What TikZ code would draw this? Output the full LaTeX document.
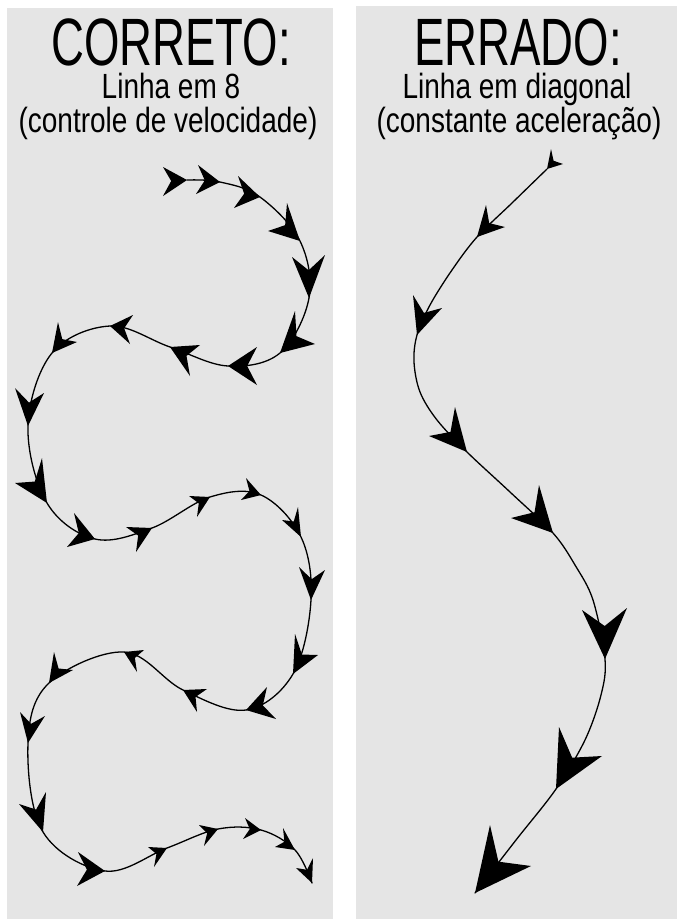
\documentclass[tikz,border=0pt]{standalone}
\usepackage{fontspec}
\setmainfont{Liberation Sans}
\newfontfamily\titlefont[FakeStretch=0.68]{Liberation Sans}
\newfontfamily\subfont[FakeStretch=0.80]{Liberation Sans}
\usetikzlibrary{calc}
\definecolor{panelgray}{RGB}{229,229,229}
\tikzset{
  panel/.style={fill=panelgray, draw=none},
  titletext/.style={anchor=base, inner sep=0pt, text height=48pt, text depth=0pt,
    font=\titlefont\fontsize{67}{70}\selectfont},
  subtext/.style={anchor=base, inner sep=0pt, text height=25pt, text depth=7pt,
    font=\subfont\fontsize{35}{38}\selectfont},
  trail/.style={line width=1.3pt, line cap=round, line join=round},
}
\newcommand\arrhead[3]{%
  \coordinate (m) at ($#2!0.5!#3$);
  \fill #1 -- #2 -- ($#1!0.66!(m)$) -- #3 -- cycle;}
\begin{document}
\begin{tikzpicture}[x=1pt,y=-1pt]
\useasboundingbox (0,0) rectangle (677,919);
\fill[white] (0,0) rectangle (677,919);
\path[panel] (7,8) rectangle (333,919);
\path[panel] (356,6) rectangle (677,919);

\node[titletext] (t1) at (171,65) {CORRETO:};
\node[subtext] (s1) at (171,98) {Linha em 8};
\node[subtext] (s2) at (168,132) {(controle de velocidade)};
\node[titletext] (t2) at (518,65) {ERRADO:};
\node[subtext] (s3) at (517,98) {Linha em diagonal};
\node[subtext] (s4) at (519,132) {(constante aceleração)};

% left trail
\draw[trail] plot[smooth, tension=0.6] coordinates {
(187,180) (220,182) (260,197) (300,241) (309,298) (280,353) (228,366)
(170,347) (110,326) (52,353) (28,426) (47,503) (95,539) (152,528)
(210,497) (261,495) (301,537) (311,600) (293,674) (246,710) (183,690)
(124,652) (49,683) (28,743) (43,832) (105,871) (167,848) (218,829)
(261,830) (295,850) (312,883)};

\arrhead{(187,180)}{(163,167)}{(163,196)}
\arrhead{(220,182)}{(198,165)}{(196,194)}
\arrhead{(260,197)}{(238,176)}{(234,208)}
\arrhead{(300,241)}{(287,203)}{(268,231)}
\arrhead{(309,298)}{(292,257)}{(325,255)}
\arrhead{(280,353)}{(295,311)}{(315,344)}
\arrhead{(228,366)}{(257,347)}{(257,385)}
\arrhead{(170,347)}{(200,345)}{(190,376)}
\arrhead{(110,326)}{(133,315)}{(130,344)}
\arrhead{(52,353)}{(58,322)}{(77,342)}
\arrhead{(28,426)}{(15,388)}{(44,393)}
\arrhead{(47,503)}{(42,458)}{(15,483)}
\arrhead{(95,539)}{(74,513)}{(67,547)}
\arrhead{(152,528)}{(126,527)}{(136,552)}
\arrhead{(210,497)}{(189,496)}{(197,517)}
\arrhead{(261,495)}{(246,478)}{(241,500)}
\arrhead{(301,537)}{(298,507)}{(282,520)}
\arrhead{(311,600)}{(299,567)}{(325,570)}
\arrhead{(293,674)}{(295,634)}{(318,655)}
\arrhead{(246,710)}{(267,687)}{(276,719)}
\arrhead{(183,690)}{(207,689)}{(197,712)}
\arrhead{(124,652)}{(144,650)}{(137,672)}
\arrhead{(49,683)}{(54,652)}{(73,670)}
\arrhead{(28,743)}{(20,712)}{(45,716)}
\arrhead{(43,832)}{(46,792)}{(19,804)}
\arrhead{(105,871)}{(78,852)}{(77,886)}
\arrhead{(167,848)}{(148,847)}{(154,867)}
\arrhead{(218,829)}{(199,825)}{(204,846)}
\arrhead{(261,830)}{(245,818)}{(243,839)}
\arrhead{(295,850)}{(283,828)}{(275,847)}
\arrhead{(312,883)}{(313,858)}{(296,868)}

% right trail
\draw[trail] plot[smooth, tension=0.55] coordinates {
(547,169) (512,203) (477,237) (452,270) (430,305) (417,335) (414,362)
(420,392) (437,420) (467,452) (510,492) (553,533) (575,565) (593,600)
(605,659) (601,695) (585,740) (556,789) (516,840) (475,893)};

\arrhead{(547,169)}{(551,149)}{(563,164)}
\arrhead{(477,237)}{(486,205)}{(505,227)}
\arrhead{(417,335)}{(413,295)}{(442,308)}
\arrhead{(467,452)}{(455,407)}{(429,436)}
\arrhead{(553,533)}{(539,485)}{(511,518)}
\arrhead{(605,659)}{(582,610)}{(627,608)}
\arrhead{(556,789)}{(559,727)}{(602,756)}
\arrhead{(475,893)}{(490,825)}{(531,866)}
\end{tikzpicture}
\end{document}
